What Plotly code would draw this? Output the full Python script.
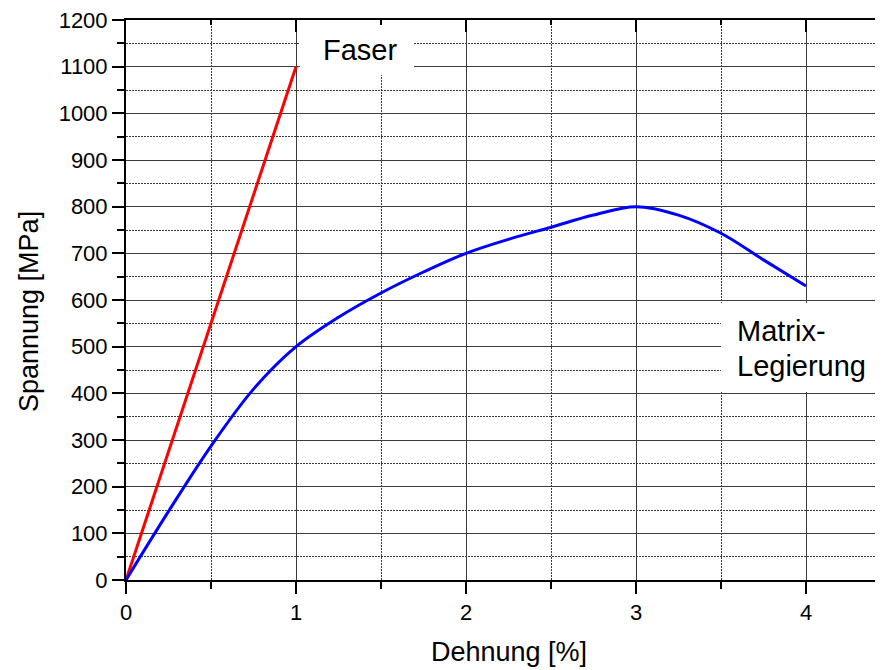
import plotly.graph_objects as go

# ---- data ----
faser_x = [0, 1]
faser_y = [0, 1100]

matrix_x = [0, 0.25, 0.5, 0.75, 1.0, 1.25, 1.5, 1.75, 2.0, 2.25, 2.5, 2.75, 3.0, 3.25, 3.5, 3.75, 4.0]
matrix_y = [0, 147, 287, 409, 500, 563, 615, 660, 700, 730, 756, 782, 800, 782, 743, 686, 630]

x_title = "Dehnung [%]"
y_title = "Spannung [MPa]"
label_faser = "Faser"
label_matrix = ["Matrix-", "Legierung"]

# ---- layout geometry (page has an 8px body margin) ----
OFF = 8
W, H = 883 - OFF, 670 - OFF
ML, MR, MT, MB = 126 - OFF, 0, 20 - OFF, 90
PW, PH = W - ML - MR, H - MT - MB
XMAX = PW / 170.0
YMAX = 1200

FONT = "Liberation Sans, Arial, Helvetica, sans-serif"

# screen px (in the photographed window) -> data / paper coordinates
def px2x(px):
    return (px - OFF - ML) / PW * XMAX

def py2y(py):
    return (MT + PH - (py - OFF)) / PH * YMAX

def px2paper(px):
    return (px - OFF - ML) / PW

def py2paper(py):
    return (MT + PH - (py - OFF)) / PH

fig = go.Figure()
fig.add_trace(go.Scatter(x=faser_x, y=faser_y, mode="lines",
                         line=dict(color="#ff0000", width=3), showlegend=False))
fig.add_trace(go.Scatter(x=matrix_x, y=matrix_y, mode="lines",
                         line=dict(color="#0000ff", width=3, shape="spline", smoothing=1.0),
                         showlegend=False))
# invisible carrier trace so the mirrored (top / right) axes are drawn
fig.add_trace(go.Scatter(x=faser_x, y=faser_y, xaxis="x2", yaxis="y2", mode="lines",
                         line=dict(color="rgba(0,0,0,0)", width=0), hoverinfo="skip",
                         showlegend=False))

grid_major = "#3c3c3c"
grid_minor = "#3a3a3a"
minor_dash = "2px,1px"

fig.update_layout(
    width=W, height=H,
    margin=dict(l=ML, r=MR, t=MT, b=MB, pad=0),
    paper_bgcolor="white", plot_bgcolor="white",
    font=dict(family=FONT, size=22, color="black"),
    xaxis=dict(range=[0, XMAX], dtick=1, tick0=0, showgrid=True, gridcolor=grid_major, gridwidth=1,
               zeroline=False, showline=True, linecolor="black", linewidth=2,
               ticks="outside", ticklen=12, tickwidth=2, tickcolor="black",
               tickfont=dict(size=22), ticklabeloverflow="allow",
               minor=dict(dtick=0.5, showgrid=True, gridcolor=grid_minor, griddash=minor_dash, gridwidth=1,
                          ticks="outside", ticklen=7, tickwidth=2, tickcolor="black")),
    yaxis=dict(range=[0, YMAX], dtick=100, tick0=0, showgrid=True, gridcolor=grid_major, gridwidth=1,
               zeroline=False, showline=True, linecolor="black", linewidth=2,
               ticks="outside", ticklen=12, tickwidth=2, tickcolor="black",
               tickfont=dict(size=22), ticklabeloverflow="allow",
               minor=dict(dtick=50, showgrid=True, gridcolor=grid_minor, griddash=minor_dash, gridwidth=1,
                          ticks="outside", ticklen=7, tickwidth=2, tickcolor="black")),
    xaxis2=dict(overlaying="x", side="top", anchor="y2", range=[0, XMAX], dtick=1, tick0=0,
                showgrid=False, zeroline=False, showline=True, linecolor="black", linewidth=2,
                ticks="inside", ticklen=12, tickwidth=2, tickcolor="black", showticklabels=False,
                minor=dict(dtick=0.5, ticks="inside", ticklen=5, tickwidth=2, tickcolor="black")),
    yaxis2=dict(overlaying="y", side="right", anchor="x2", range=[0, YMAX], dtick=100, tick0=0,
                showgrid=False, zeroline=False, showline=True, linecolor="black", linewidth=3,
                ticks="inside", ticklen=6, tickwidth=2, tickcolor="black", showticklabels=False,
                minor=dict(dtick=50, ticks="inside", ticklen=4, tickwidth=2, tickcolor="black")),
)

# white label boxes
fig.add_shape(type="rect", xref="x", yref="y", layer="above",
              x0=px2x(300), x1=px2x(414), y0=py2y(75), y1=py2y(25),
              fillcolor="white", line=dict(width=0))
fig.add_shape(type="rect", xref="x", yref="y", layer="above",
              x0=px2x(721), x1=px2x(879), y0=py2y(392), y1=py2y(303),
              fillcolor="white", line=dict(width=0))

fig.add_annotation(xref="x", yref="y", x=px2x(360), y=py2y(50), text=label_faser,
                   showarrow=False, xanchor="center", yanchor="middle",
                   font=dict(size=29, family=FONT, color="black"))
fig.add_annotation(xref="x", yref="y", x=px2x(735), y=py2y(331), text=label_matrix[0],
                   showarrow=False, xanchor="left", yanchor="middle",
                   font=dict(size=29, family=FONT, color="black"))
fig.add_annotation(xref="x", yref="y", x=px2x(735), y=py2y(366), text=label_matrix[1],
                   showarrow=False, xanchor="left", yanchor="middle",
                   font=dict(size=29, family=FONT, color="black"))

# axis titles
fig.add_annotation(xref="paper", yref="paper", x=px2paper(509), y=py2paper(652),
                   text=x_title, showarrow=False, xanchor="center", yanchor="middle",
                   font=dict(size=27, family=FONT, color="black"))
fig.add_annotation(xref="paper", yref="paper", x=px2paper(29), y=py2paper(311),
                   text=y_title, showarrow=False, xanchor="center", yanchor="middle", textangle=-90,
                   font=dict(size=27, family=FONT, color="black"))

fig.write_html("out.html")
